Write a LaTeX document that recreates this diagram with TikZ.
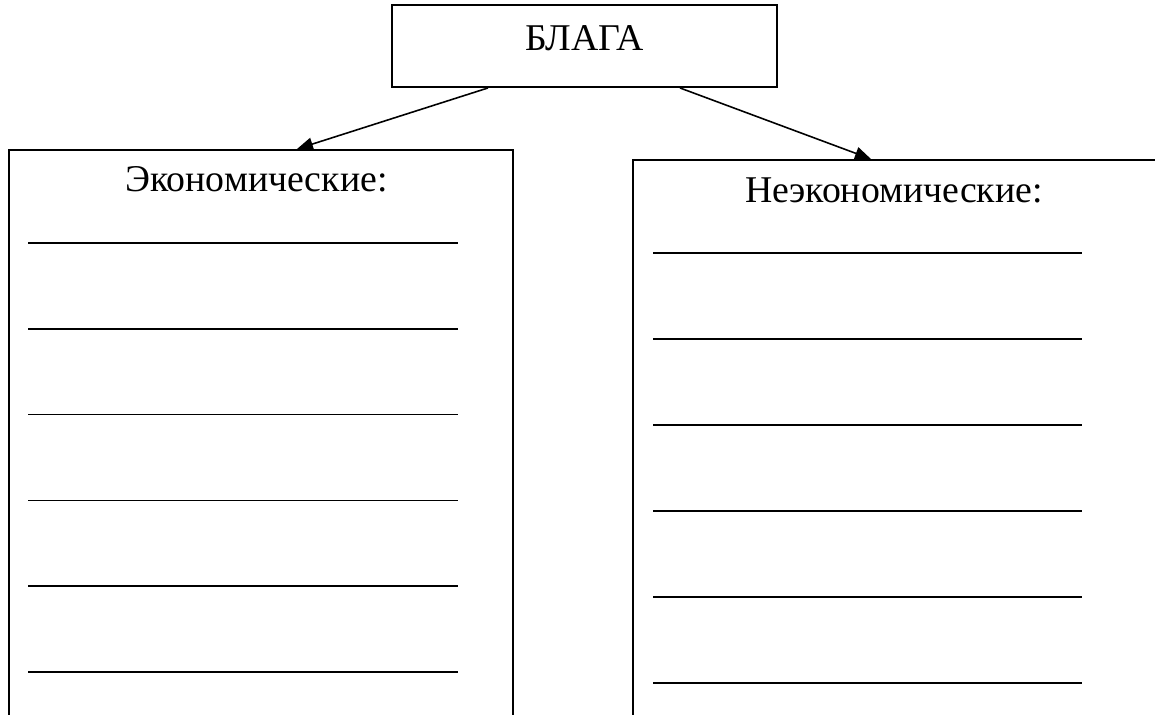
\documentclass[tikz,border=0pt]{standalone}
\usepackage{fontspec}
\setmainfont{Liberation Serif}
\usetikzlibrary{arrows.meta}

\tikzset{
    box/.style={draw,line width=1.1pt,inner sep=0pt},
    title/.style={anchor=base,font=\fontsize{21.5}{24}\selectfont},
    blank/.style={line width=1pt},
    link/.style={line width=0.9pt,-{Triangle[length=0.32cm,width=0.26cm]}}
}

\begin{document}
\begin{tikzpicture}
        \useasboundingbox (0,0) rectangle (23.1,-14.3);
        \clip (0,0) rectangle (23.1,-14.3);
        % \draw[very thin,color=gray] (0,-14.3) grid (23.1,0);

        \node[box,minimum width=7.7cm,minimum height=1.64cm] (blaga) at (11.69,-0.92) {};
        \node[title] (blagatext) at (11.69,-1.014) {БЛАГА};

        \node[box,anchor=north west,minimum width=10.08cm,minimum height=12cm] (econ) at (0.16,-2.98) {};
        \node[title] (econtext) at (5.13,-3.84) {Экономические:};

        \node[box,anchor=north west,minimum width=10.5cm,minimum height=12cm] (noneco) at (12.64,-3.18) {};
        \node[title] (nonecotext) at (17.88,-4.06) {Неэкономические:};

        \draw[link] ([xshift=-1.93cm]blaga.south) -- ([xshift=0.72cm]econ.north);
        \draw[link] ([xshift=1.91cm]blaga.south) -- ([xshift=-0.49cm]noneco.north);

        % lines to fill in
        \foreach \i in {0,...,5}{
            \draw[blank] (0.56,-4.86-1.716*\i) -- (9.16,-4.86-1.716*\i);
            \draw[blank] (13.06,-5.06-1.72*\i) -- (21.64,-5.06-1.72*\i);
        }
    \end{tikzpicture}
\end{document}
